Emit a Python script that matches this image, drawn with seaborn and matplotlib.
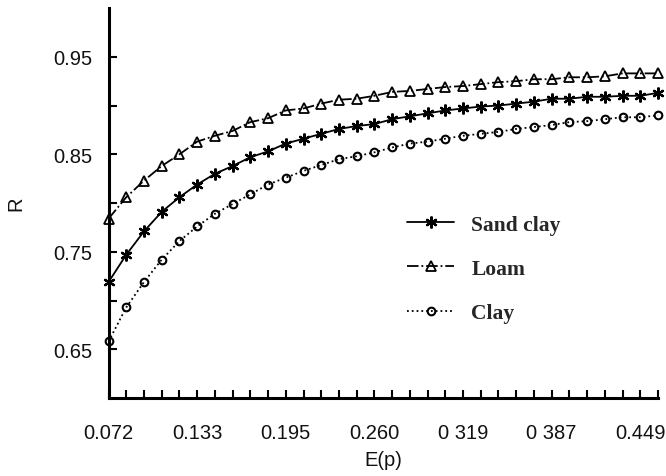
import numpy as np
import pandas as pd
import matplotlib
matplotlib.use("Agg")
import matplotlib.pyplot as plt
from matplotlib.ticker import FixedLocator, NullFormatter
import seaborn as sns

# ---- data ----
tick_labels = ["0.072", "0.133", "0.195", "0.260", "0 319", "0 387", "0.449"]
sand_clay = [0.719, 0.747, 0.771, 0.791, 0.806, 0.819, 0.830, 0.838, 0.847, 0.853,
             0.861, 0.866, 0.871, 0.876, 0.879, 0.881, 0.886, 0.889, 0.892, 0.895,
             0.897, 0.899, 0.900, 0.902, 0.904, 0.907, 0.907, 0.909, 0.909, 0.910,
             0.910, 0.913]
loam = [0.784, 0.806, 0.823, 0.838, 0.850, 0.863, 0.869, 0.874, 0.883, 0.887,
        0.895, 0.897, 0.902, 0.906, 0.907, 0.910, 0.914, 0.915, 0.917, 0.919,
        0.920, 0.922, 0.924, 0.925, 0.927, 0.927, 0.929, 0.929, 0.930, 0.933,
        0.933, 0.933]
clay = [0.658, 0.693, 0.719, 0.742, 0.761, 0.776, 0.789, 0.799, 0.809, 0.819,
        0.826, 0.833, 0.839, 0.845, 0.848, 0.852, 0.857, 0.861, 0.863, 0.866,
        0.869, 0.871, 0.873, 0.876, 0.878, 0.880, 0.883, 0.884, 0.886, 0.888,
        0.888, 0.890]
series_names = ["Sand clay", "Loam", "Clay"]
y_major = [0.65, 0.75, 0.85, 0.95]
y_minor = [0.70, 0.80, 0.90]

point_index = list(range(len(sand_clay)))

sns.set_style("ticks")
plt.rcParams['font.family'] = ['Liberation Sans', 'DejaVu Sans']

fig = plt.figure(figsize=(6.66, 4.77), dpi=100)
ax = fig.add_axes([0.163, 0.1635, 0.825, 0.8175])

styles = [
    dict(marker=(6, 2, 0), linestyle='-', markersize=8.5, markeredgewidth=1.6),
    dict(marker='^', linestyle='-.', markersize=7, markeredgewidth=1.3),
    dict(marker='o', linestyle=':', markersize=5.5, markeredgewidth=1.5),
]
for name, vals, st in zip(series_names, [sand_clay, loam, clay], styles):
    sns.lineplot(x=point_index, y=vals, ax=ax, color='black', linewidth=1.3,
                 markerfacecolor='none', markeredgecolor='black',
                 label=name, clip_on=False, **st)

ax.set_xlim(0, 31)
ax.set_ylim(0.60, 1.00)

ax.xaxis.set_major_locator(FixedLocator(point_index[::5]))
ax.set_xticklabels(tick_labels)
ax.xaxis.set_minor_locator(FixedLocator([i for i in point_index if i % 5 != 0]))
ax.yaxis.set_major_locator(FixedLocator(y_major))
ax.set_yticklabels([f"{v:.2f}" for v in y_major])
ax.yaxis.set_minor_locator(FixedLocator(y_minor))
ax.yaxis.set_minor_formatter(NullFormatter())

ax.tick_params(axis='both', which='both', direction='in', length=6, width=1.5,
               color='black', labelsize=14.5, labelcolor='#111111')
ax.tick_params(axis='x', which='both', pad=18)
ax.tick_params(axis='y', which='both', pad=12)

for s in ['top', 'right']:
    ax.spines[s].set_visible(False)
for s in ['left', 'bottom']:
    ax.spines[s].set_linewidth(2.2)
    ax.spines[s].set_color('black')

ax.set_xlabel("E(p)", fontsize=14.5, labelpad=6, color='#111111')
ax.set_ylabel("R", fontsize=14.5, labelpad=20, color='#111111')

leg = ax.legend(loc='upper left', bbox_to_anchor=(0.543, 0.47), frameon=False,
                borderaxespad=0, borderpad=0, handlelength=2.2, handletextpad=0.8,
                labelspacing=1.12,
                prop=dict(family='Liberation Serif', weight='bold', size=15.5))

fig.savefig("out.png", dpi=100)
